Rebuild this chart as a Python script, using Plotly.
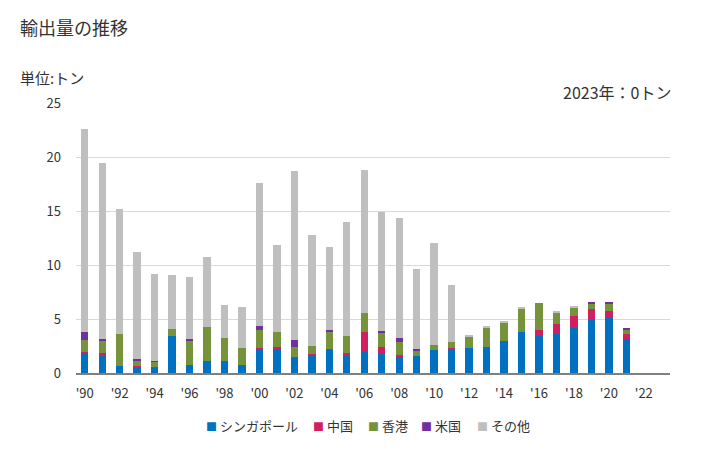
import plotly.graph_objects as go

years = list(range(1990, 2022))
singapore = [1.8, 1.6, 0.65, 0.55, 0.5, 3.4, 0.75, 1.1, 1.1, 0.75,
             2.15, 2.3, 1.4, 1.65, 2.15, 1.55, 1.95, 1.75, 1.5, 1.55,
             2.15, 2.2, 2.3, 2.4, 2.95, 3.8, 3.45, 3.6, 4.15, 4.9, 5.1, 3.15]
china = [0.15, 0.25, 0, 0.1, 0.06, 0, 0, 0, 0, 0,
         0.2, 0.1, 0.1, 0.1, 0.1, 0.3, 1.85, 0.65, 0.2, 0,
         0, 0.1, 0, 0, 0, 0, 0.55, 0.9, 1.1, 1.0, 0.65, 0.45]
hongkong = [1.1, 1.2, 2.95, 0.55, 0.46, 0.65, 2.3, 3.15, 2.15, 1.55,
            1.65, 1.4, 0.9, 0.75, 1.6, 1.6, 1.75, 1.3, 1.2, 0.55,
            0.45, 0.55, 1.05, 1.85, 1.75, 2.2, 2.5, 1.1, 0.85, 0.55, 0.65, 0.45]
usa = [0.75, 0.1, 0, 0.1, 0.09, 0, 0.1, 0, 0, 0,
       0.35, 0, 0.65, 0, 0.1, 0, 0, 0.2, 0.35, 0.1,
       0, 0, 0, 0, 0, 0, 0, 0, 0, 0.1, 0.1, 0.1]
others = [18.8, 16.3, 11.6, 9.9, 8.06, 5.0, 5.75, 6.5, 3.05, 3.8,
          13.25, 8.05, 15.65, 10.3, 7.75, 10.55, 13.25, 11.0, 11.1, 7.4,
          9.45, 5.3, 0.1, 0.1, 0.1, 0.1, 0.0, 0.1, 0.1, 0, 0, 0]

series_names = ["シンガポール", "中国", "香港", "米国", "その他"]
series_values = [singapore, china, hongkong, usa, others]
series_colors = ["#0070C0", "#D11F62", "#76933C", "#7030A0", "#BFBFBF"]

tick_years = list(range(1990, 2023, 2))
tick_text = ["'" + str(y)[2:] for y in tick_years]

font_family = "Noto Sans CJK JP, Noto Sans, sans-serif"

fig = go.Figure()
for name, vals, color in zip(series_names, series_values, series_colors):
    fig.add_trace(go.Bar(x=years, y=vals, name=name, marker_color=color,
                         marker_line_width=0, showlegend=False))

# legend built as text items below the plot
legend_x = [0.2189, 0.399, 0.4916, 0.5808, 0.675]
annotations = []
for name, color, lx in zip(series_names, series_colors, legend_x):
    annotations.append(dict(
        text=f"<span style='color:{color};font-size:11px'>■</span> {name}",
        xref="paper", yref="paper", x=lx - 0.004, y=-0.196,
        xanchor="left", yanchor="middle", showarrow=False,
        font=dict(size=13, color="#333333")))

annotations += [
    dict(text="輸出量の推移", xref="paper", yref="paper", x=-0.098, y=1.281,
         xanchor="left", yanchor="middle", showarrow=False,
         font=dict(size=18, color="#333333")),
    dict(text="単位:トン", xref="paper", yref="paper", x=-0.098, y=1.096,
         xanchor="left", yanchor="middle", showarrow=False,
         font=dict(size=15, color="#333333")),
    dict(text="2023年：0トン", xref="paper", yref="paper", x=1.005, y=1.041,
         xanchor="right", yanchor="middle", showarrow=False,
         font=dict(size=16, color="#333333")),
]

fig.update_layout(
    barmode="stack",
    bargap=0.58,
    width=728, height=450,
    margin=dict(l=76, r=58, t=103, b=77),
    paper_bgcolor="white", plot_bgcolor="white",
    font=dict(family=font_family, size=13, color="#333333"),
    showlegend=False,
    xaxis=dict(range=[1989.5, 2023.5], tickmode="array", tickvals=tick_years,
               ticktext=tick_text, showgrid=False, showline=True,
               linecolor="#808080", linewidth=1.5, ticks="",
               tickfont=dict(size=13), ticklabelstandoff=8, automargin=False),
    yaxis=dict(range=[0, 25], tickvals=[0, 5, 10, 15, 20, 25], showgrid=True,
               gridcolor="#D9D9D9", gridwidth=1, zeroline=False, ticks="",
               tickfont=dict(size=13), ticklabelstandoff=14, automargin=False),
    annotations=annotations,
)

fig.write_html("out.html", config={"displayModeBar": False})

# remove default browser body margin so the figure sits at the page origin
with open("out.html", "r", encoding="utf-8") as f:
    html = f.read()
html = html.replace("<head>", "<head><style>html,body{margin:0;padding:0;}</style>", 1)
with open("out.html", "w", encoding="utf-8") as f:
    f.write(html)
